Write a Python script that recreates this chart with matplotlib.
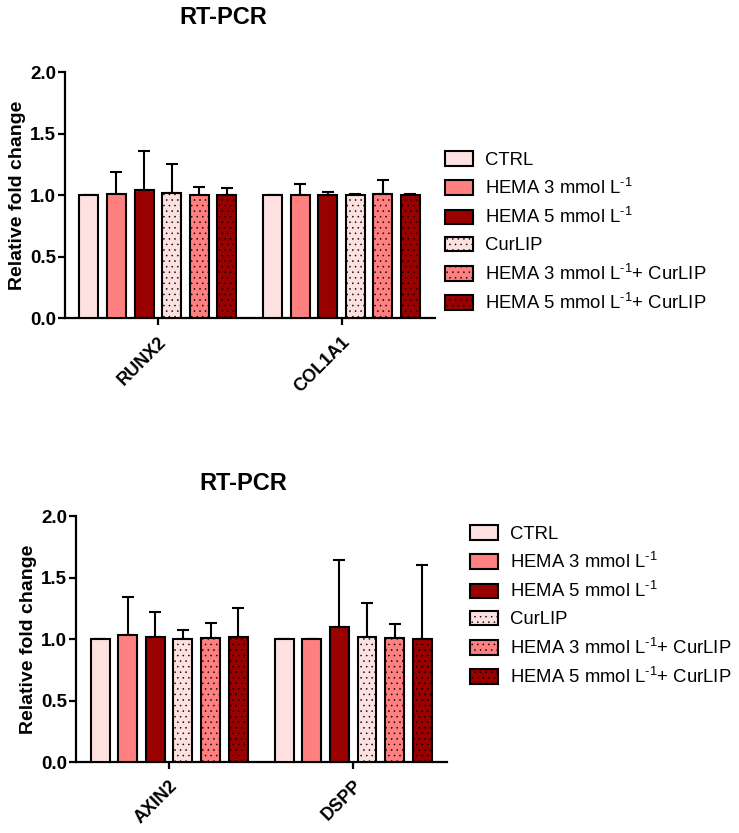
import matplotlib
matplotlib.use('Agg')
import matplotlib.pyplot as plt
import numpy as np
from matplotlib.patches import Patch

plt.rcParams['font.family'] = ['Liberation Sans', 'DejaVu Sans']
plt.rcParams['mathtext.fontset'] = 'custom'
plt.rcParams['mathtext.rm'] = 'Liberation Sans'
plt.rcParams['hatch.linewidth'] = 0.35
plt.rcParams['hatch.color'] = '#4a4a4a'

# Gruppen / Serien
series_labels = ['CTRL', r'HEMA 3 mmol L$^{\text{-1}}$', r'HEMA 5 mmol L$^{\text{-1}}$', 'CurLIP',
                 r'HEMA 3 mmol L$^{\text{-1}}$+ CurLIP', r'HEMA 5 mmol L$^{\text{-1}}$+ CurLIP']
series_colors = ['#fde0e0', '#ff8080', '#990000', '#fde0e0', '#ff8080', '#990000']
series_hatch = [None, None, None, '...', '...', '...']

genes_top = ['RUNX2', 'COL1A1']
means_top = [[1.00, 1.01, 1.04, 1.02, 1.00, 1.00],
             [1.00, 1.00, 1.00, 1.00, 1.01, 1.00]]
err_top = [[0.00, 0.18, 0.32, 0.23, 0.07, 0.06],
           [0.00, 0.09, 0.03, 0.01, 0.11, 0.01]]

genes_bottom = ['AXIN2', 'DSPP']
means_bottom = [[1.00, 1.03, 1.02, 1.00, 1.01, 1.02],
                [1.00, 1.00, 1.10, 1.02, 1.01, 1.00]]
err_bottom = [[0.00, 0.31, 0.20, 0.07, 0.12, 0.23],
              [0.00, 0.00, 0.54, 0.27, 0.11, 0.60]]

y_ticks = [0.0, 0.5, 1.0, 1.5, 2.0]

BAR_STEP = 0.15
BAR_WIDTH = 0.103


def draw_panel(ax, genes, means, errs, title, title_x, title_pad):
    means = np.array(means)
    errs = np.array(errs)
    x = np.arange(len(genes))
    for i in range(len(series_labels)):
        pos = x + (i - 2.5) * BAR_STEP
        ax.bar(pos, means[:, i], width=BAR_WIDTH, color=series_colors[i], edgecolor='black',
               linewidth=1.5, hatch=series_hatch[i], zorder=3)
        ax.errorbar(pos, means[:, i], yerr=[np.zeros(len(genes)), errs[:, i]], fmt='none',
                    ecolor='black', elinewidth=1.5, capsize=4.5, capthick=1.5, zorder=2)
    ax.set_xlim(-0.505, 1.51)
    ax.set_ylim(0, 2.0)
    ax.set_yticks(y_ticks)
    ax.set_yticklabels([f'{t:.1f}' for t in y_ticks], fontsize=13.5, fontweight='bold')
    ax.set_xticks(x)
    ax.set_xticklabels(genes, rotation=45, ha='right', rotation_mode='anchor',
                       fontsize=13, fontweight='bold')
    ax.set_ylabel('Relative fold change', fontsize=14, fontweight='bold', labelpad=3)
    ax.set_title(title, fontsize=17, fontweight='bold', x=title_x, pad=title_pad)
    for side in ['top', 'right']:
        ax.spines[side].set_visible(False)
    for side in ['left', 'bottom']:
        ax.spines[side].set_linewidth(1.6)
    ax.tick_params(axis='both', direction='out', length=5, width=1.6, pad=1.5)
    ax.tick_params(axis='x', pad=6)


fig = plt.figure(figsize=(7.39, 8.33), dpi=100)
ax_top = fig.add_axes([0.088, 0.618, 0.501, 0.2953])
ax_bot = fig.add_axes([0.103, 0.0852, 0.502, 0.2953])

draw_panel(ax_top, genes_top, means_top, err_top, 'RT-PCR', 0.427, 35)
draw_panel(ax_bot, genes_bottom, means_bottom, err_bottom, 'RT-PCR', 0.45, 19)

handles = [Patch(facecolor=c, edgecolor='black', linewidth=1.5, hatch=h, label=l)
           for c, h, l in zip(series_colors, series_hatch, series_labels)]

for anchor in [(445 / 739, 1 - 151 / 833), (470 / 739, 1 - 525 / 833)]:
    fig.legend(handles=handles, loc='upper left', bbox_to_anchor=anchor, frameon=False,
               fontsize=13.3, borderpad=0, borderaxespad=0, handlelength=1.5, handleheight=0.85,
               handletextpad=0.65, labelspacing=0.5)

fig.savefig('out.png', dpi=100)
